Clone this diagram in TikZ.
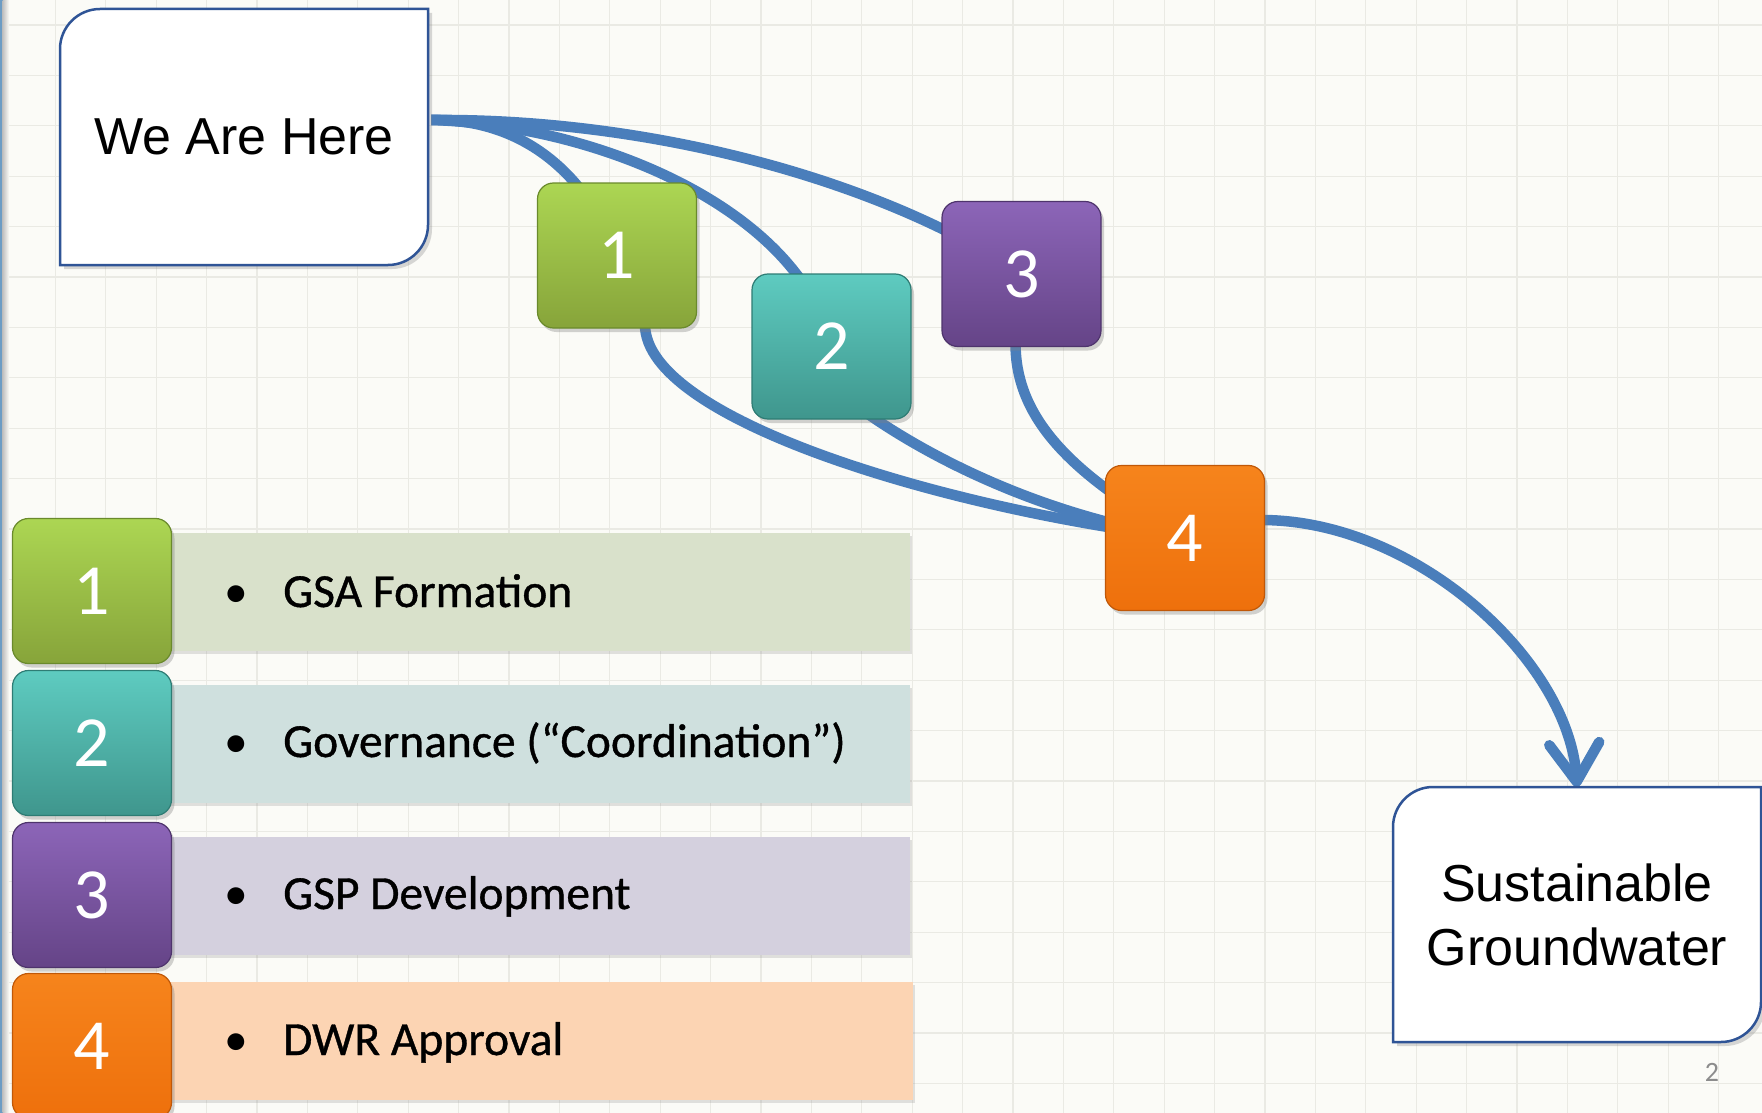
\documentclass[tikz,border=0pt]{standalone}
\usepackage{fontspec}
\setmainfont{Liberation Sans}
\newfontfamily\carlito{Carlito}
\newfontfamily\carlitoheavy{Carlito}[FakeBold=0.8]
\usetikzlibrary{shadows,arrows.meta,calc}
\pgfdeclarelayer{gridlayer}
\pgfdeclarelayer{edgelayer}
\pgfsetlayers{gridlayer,edgelayer,main}

\definecolor{bgc}{HTML}{FBFBF7}
\definecolor{gridc}{HTML}{EAEAE4}
\definecolor{connc}{HTML}{4A7EBB}
\definecolor{outl}{HTML}{2F5496}
\definecolor{edgeblue}{HTML}{6C9CC4}
\definecolor{gA}{HTML}{ACD653}
\definecolor{gB}{HTML}{87A43A}
\definecolor{gC}{HTML}{6A8A2C}
\definecolor{tA}{HTML}{5ECBC0}
\definecolor{tB}{HTML}{3F968D}
\definecolor{tC}{HTML}{2E7C74}
\definecolor{pA}{HTML}{8C65B8}
\definecolor{pB}{HTML}{654487}
\definecolor{pC}{HTML}{4E346C}
\definecolor{oA}{HTML}{F6841C}
\definecolor{oB}{HTML}{EE700C}
\definecolor{oC}{HTML}{C05808}
\definecolor{barA}{HTML}{D9E1CB}
\definecolor{barB}{HTML}{CFE0DE}
\definecolor{barC}{HTML}{D4D0DE}
\definecolor{barD}{HTML}{FCD4B3}
\definecolor{pgc}{HTML}{8C8C8C}

\tikzset{
  numbox/.style={rounded corners=16pt, minimum width=159pt, minimum height=145pt,
    inner sep=0pt, text=white, font=\carlito\fontsize{72}{72}\selectfont,
    line width=1.2pt, drop shadow={opacity=0.35, shadow xshift=3pt, shadow yshift=-4pt}},
  greenbox/.style={numbox, top color=gA, bottom color=gB, draw=gC},
  tealbox/.style={numbox, top color=tA, bottom color=tB, draw=tC},
  purplebox/.style={numbox, top color=pA, bottom color=pB, draw=pC},
  orangebox/.style={numbox, top color=oA, bottom color=oB, draw=oC},
  barbox/.style={minimum height=118pt, inner sep=0pt,
    drop shadow={opacity=0.22, shadow xshift=2pt, shadow yshift=-3pt}},
  legtext/.style={anchor=base west, inner sep=0pt, font=\carlitoheavy\fontsize{47.5}{50}\selectfont},
  bulletmark/.style={anchor=base, inner sep=0pt, font=\carlito\fontsize{47.5}{50}\selectfont},
  conn/.style={draw=connc, line width=10.5pt},
  outline/.style={draw=outl, line width=2.5pt, fill=white,
    drop shadow={opacity=0.3, shadow xshift=4pt, shadow yshift=-4pt}},
  bigtext/.style={font=\fontsize{52}{64}\selectfont, align=center},
  gridline/.style={draw=gridc, line width=1.3pt}
}

\begin{document}
\begin{tikzpicture}[x=1pt,y=-1pt]
\useasboundingbox (0,0) rectangle (1762,1113);

\begin{pgfonlayer}{gridlayer}
  \fill[bgc] (0,0) rectangle (1762,1113);
  \foreach \i in {0,...,34} \draw[gridline] ({5+50.4*\i},0) -- ({5+50.4*\i},1113);
  \foreach \j in {0,...,21} \draw[gridline] (0,{25+50.4*\j}) -- (1762,{25+50.4*\j});
  \fill[edgeblue] (0,0) rectangle (2.5,1113);
  \shade[left color=black!25, right color=bgc] (2.5,0) rectangle (9,1113);
\end{pgfonlayer}

% We Are Here box
\path[outline] (100,9) -- (428,9) -- (428,225) .. controls (428,247) and (410,265) .. (388,265)
  -- (60,265) -- (60,49) .. controls (60,27) and (78,9) .. (100,9) -- cycle;
\node[bigtext, minimum width=368pt, minimum height=256pt, inner sep=0pt] (weh) at (244,137) {We Are Here};

% Sustainable Groundwater box
\path[outline] (1433,787) -- (1761,787) -- (1761,1002) .. controls (1761,1024) and (1743,1042) .. (1721,1042)
  -- (1393,1042) -- (1393,827) .. controls (1393,805) and (1411,787) .. (1433,787) -- cycle;
\node[bigtext, minimum width=368pt, minimum height=255pt, inner sep=0pt] (sg) at (1577,914.5) {Sustainable\\Groundwater};

% process boxes
\node[greenbox]  (b1) at (617,255.5) {1};
\node[tealbox]   (b2) at (831.5,346.5) {2};
\node[purplebox] (b3) at (1021.5,274) {3};
\node[orangebox] (b4) at (1185,538) {4};

% legend bars
\node[barbox, fill=barA, minimum width=760pt] (bar1) at (530,592) {};
\node[barbox, fill=barB, minimum width=760pt] (bar2) at (530,743.5) {};
\node[barbox, fill=barC, minimum width=760pt] (bar3) at (530,896) {};
\node[barbox, fill=barD, minimum width=763pt] (bar4) at (531.5,1041) {};

\node[bulletmark] (u1) at (236,607) {•};
\node[legtext] (t1) at (283,607) {GSA Formation};
\node[bulletmark] (u2) at (236,757) {•};
\node[legtext] (t2) at (283,757) {Governance (“Coordination”)};
\node[bulletmark] (u3) at (236,909) {•};
\node[legtext] (t3) at (283,909) {GSP Development};
\node[bulletmark] (u4) at (236,1055) {•};
\node[legtext] (t4) at (283,1055) {DWR Approval};

% legend squares
\node[greenbox]  (l1) at (92,591) {1};
\node[tealbox]   (l2) at (92,743) {2};
\node[purplebox] (l3) at (92,895) {3};
\node[orangebox] (l4) at (92,1046) {4};

% page number
\node[font=\carlito\fontsize{28}{28}\selectfont, text=pgc, inner sep=0pt] (pg) at (1712,1072) {2};

% connectors
\begin{pgfonlayer}{edgelayer}
  \draw[conn] ([shift={(3pt,17pt)}]weh.east) .. controls +(87,-2) and +(-32,-86) .. (b1.center);
  \draw[conn] ([shift={(3pt,17pt)}]weh.east) .. controls +(169,5) and +(-31,-136) .. (b2.center);
  \draw[conn] ([shift={(3pt,17pt)}]weh.east) .. controls +(219,-2) and +(-141,-94) .. (b3.center);
  \draw[conn] ([shift={(28pt,4pt)}]b1.south) .. controls +(0,96) and +(-235,-28) .. (b4.center);
  \draw[conn] ([shift={(36pt,6pt)}]b2.south) .. controls +(54,38) and +(-150,-23) .. (b4.center);
  \draw[conn] ([shift={(-6pt,4pt)}]b3.south) .. controls +(0,68) and +(-125,-68) .. (b4.center);
  \draw[conn, line cap=round, -{Straight Barb[length=38pt,width=50pt,round]}]
    ([shift={(-4pt,18pt)}]b4.east) .. controls +(156,0) and +(-8,-125) .. (sg.north);
\end{pgfonlayer}
\end{tikzpicture}
\end{document}
